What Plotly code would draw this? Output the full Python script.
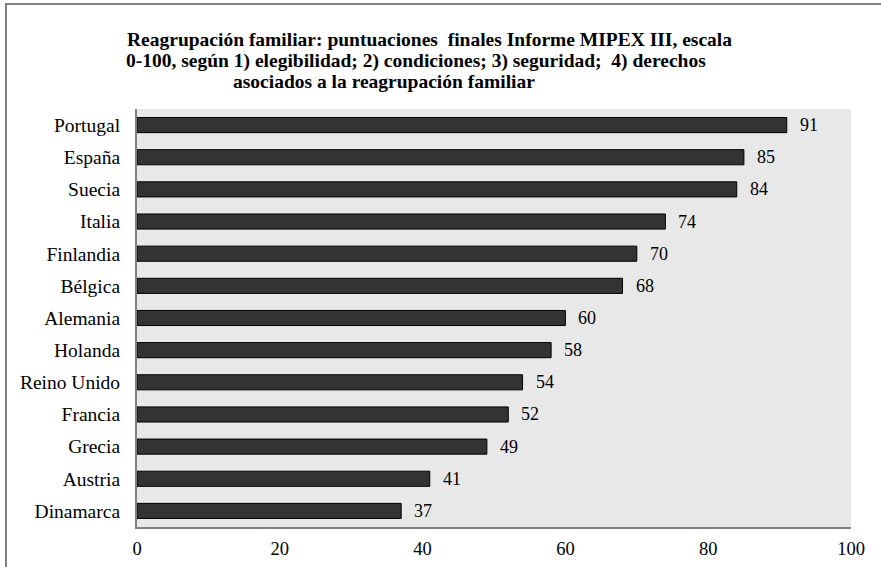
import plotly.graph_objects as go

countries = ["Portugal", "España", "Suecia", "Italia", "Finlandia", "Bélgica", "Alemania",
             "Holanda", "Reino Unido", "Francia", "Grecia", "Austria", "Dinamarca"]
scores = [91, 85, 84, 74, 70, 68, 60, 58, 54, 52, 49, 41, 37]
x_ticks = [0, 20, 40, 60, 80, 100]

title_lines = [
    "Reagrupación familiar: puntuaciones  finales Informe MIPEX III, escala",
    "0-100, según 1) elegibilidad; 2) condiciones; 3) seguridad;  4) derechos",
    "asociados a la reagrupación familiar",
]

W, H = 881, 567
L, R, T, B = 137, 30, 109, 40
FONT = "Liberation Serif, Times New Roman, serif"

fig = go.Figure(go.Bar(
    x=scores, y=countries, orientation="h",
    marker=dict(color="#333333", line=dict(color="#000000", width=1)),
    width=0.47,
    hoverinfo="skip",
))

for c, v in zip(countries, scores):
    fig.add_annotation(x=v, y=c, text=str(v), showarrow=False, xanchor="left",
                       xshift=11, font=dict(family=FONT, size=18, color="#000000"))

pw = W - L - R
ph = H - T - B
title_y = [40, 61, 82]
title_cx = [429, 416, 384]
for line, yy, cx in zip(title_lines, title_y, title_cx):
    fig.add_annotation(xref="paper", yref="paper",
                       x=(cx - L) / pw, y=(H - B - yy) / ph,
                       text="<b>" + line + "</b>", showarrow=False,
                       xanchor="center", yanchor="middle",
                       font=dict(family=FONT, size=19.5, color="#000000"))

# outer chart border (left and top visible)
fig.add_shape(type="rect", xref="paper", yref="paper",
              x0=(6 - L) / pw, x1=(W + 20 - L) / pw,
              y0=(H - B - (H + 20)) / ph, y1=(H - B - 4) / ph,
              line=dict(color="#808080", width=2), layer="below")

fig.update_layout(
    width=W, height=H,
    margin=dict(l=L, r=R, t=T, b=B, autoexpand=False),
    paper_bgcolor="#ffffff",
    plot_bgcolor="#e8e8e8",
    showlegend=False,
    font=dict(family=FONT, size=18, color="#000000"),
    bargap=0.53,
)
fig.update_xaxes(range=[0, 100], tickvals=x_ticks, showgrid=False, zeroline=False,
                 showline=True, linecolor="#808080", linewidth=2, automargin=False,
                 ticks="", ticklabelstandoff=4, tickfont=dict(family=FONT, size=18.5),
                 fixedrange=True)
fig.update_yaxes(autorange="reversed", showgrid=False, zeroline=False,
                 showline=True, linecolor="#808080", linewidth=2, automargin=False,
                 ticks="", ticklabelstandoff=11, tickfont=dict(family=FONT, size=19.5),
                 fixedrange=True)

fig.write_html("out.html", config={"displayModeBar": False},
               post_script="document.body.style.margin='0px';document.body.style.overflow='hidden';")
